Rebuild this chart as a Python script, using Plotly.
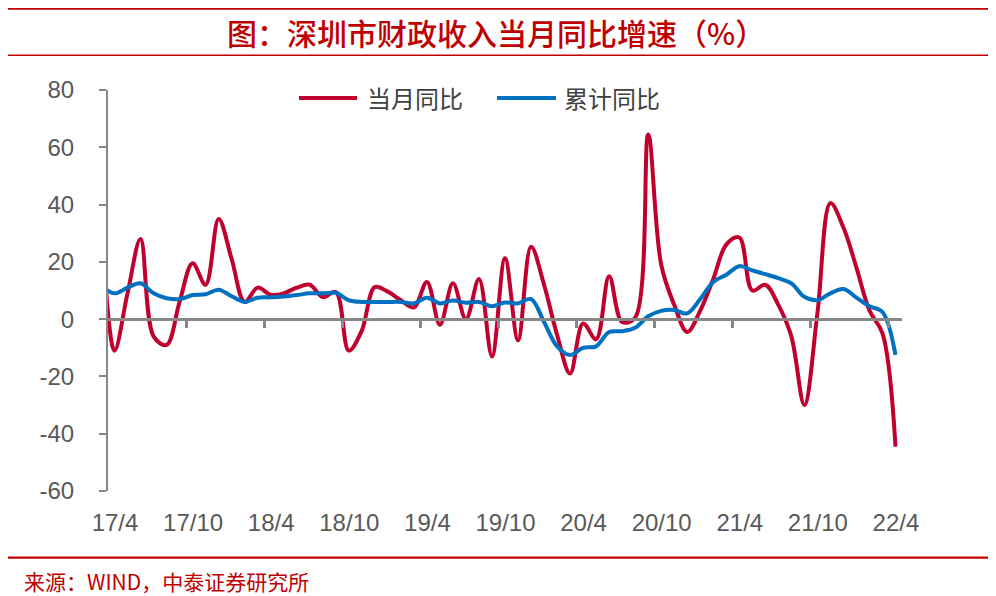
import plotly.graph_objects as go

# ---------------- data ----------------
# month index: -1 = 2017/3 (clipped at the left edge), 0 = 2017/4 ... 60 = 2022/4
months = list(range(-1, 61))

monthly_yoy = [35, -11, 9, 28, -6, -9, 6, 19.5, 12, 35, 21, 6, 11, 8.5, 9, 11, 12, 7.7, 9.5,
               -11, -4, 11.2, 9.6, 6.6, 4.1, 13, -2, 12.5, 0, 14, -13, 21.3, -7.4, 25.3, 12,
               -5.5, -19, -1.5, -7, 15, -1, 0.5, 64.5, 19, 5, -4.5, 3, 14, 26, 28.5, 10, 12,
               5, -6, -30, 2, 40.5, 32, 18, 3, -5, -44.5]

cumulative_yoy = [11.5, 9, 11, 12.5, 9, 7.3, 7, 8.4, 8.7, 10.3, 8, 6, 7.5, 7.6, 7.9, 8.4, 9,
                  9, 9.2, 6.6, 6, 6, 6, 6, 5.5, 7.5, 5.5, 6.5, 5.7, 6, 4.5, 5.8, 5.5, 7, -1,
                  -9.5, -12.5, -10, -9.5, -4.5, -4.2, -3, 1, 2.9, 3.2, 2, 7, 13, 15.5, 18.5,
                  17, 15.7, 14.3, 12.5, 7.8, 6.6, 9, 10.5, 7.5, 4.5, 2.5, -12.5]

tick_months = [0, 6, 12, 18, 24, 30, 36, 42, 48, 54, 60]
tick_labels = ["17/4", "17/10", "18/4", "18/10", "19/4", "19/10",
               "20/4", "20/10", "21/4", "21/10", "22/4"]
y_ticks = [-60, -40, -20, 0, 20, 40, 60, 80]
y_tick_labels = ["-60", "-40", "-20", "0", "20", "40", "60", "80"]

series_names = ["当月同比", "累计同比"]
series_colors = ["#C0002F", "#0070C0"]

# ---------------- layout geometry ----------------
# the page body adds an 8px offset, so figure pixels = window pixels - 8
OFF = 8
W, H = 996, 596
PLOT_L, PLOT_R, PLOT_T, PLOT_B = 108, 902, 90, 491   # window pixels
L = PLOT_L - OFF
R = W - (PLOT_R - OFF)
T = PLOT_T - OFF
B = H - (PLOT_B - OFF)
PW, PH = W - L - R, H - T - B

def px_x(px):
    return (px - OFF - L) / PW

def px_y(py):
    return (H - B - (py - OFF)) / PH

RED = "#C00000"
GRAY = "#878787"
TXT = "#595959"

fig = go.Figure()

fig.add_trace(go.Scatter(x=months, y=monthly_yoy, mode="lines", name=series_names[0],
                         line=dict(color=series_colors[0], width=4, shape="spline", smoothing=1),
                         showlegend=False))
fig.add_trace(go.Scatter(x=months, y=cumulative_yoy, mode="lines", name=series_names[1],
                         line=dict(color=series_colors[1], width=4, shape="spline", smoothing=1),
                         showlegend=False))
# helper trace so the zero-crossing axis is drawn
fig.add_trace(go.Scatter(x=[None], y=[None], xaxis="x2", showlegend=False, hoverinfo="skip"))

xrange = [-0.5, 60.5]

fig.update_layout(
    width=W, height=H,
    margin=dict(l=L, r=R, t=T, b=B, pad=0),
    paper_bgcolor="white", plot_bgcolor="white",
    font=dict(family="Liberation Sans, Arial, sans-serif", color=TXT),
    xaxis=dict(
        range=xrange, showgrid=False, zeroline=False, showline=False,
        tickmode="array", tickvals=[m - 0.5 for m in tick_months], ticktext=tick_labels,
        ticks="", ticklabelshift=7, ticklabelstandoff=15,
        tickfont=dict(family="Liberation Sans, Arial, sans-serif", size=24, color=TXT),
        fixedrange=True,
    ),
    xaxis2=dict(
        range=xrange, overlaying="x", anchor="free", position=60 / 140,
        showgrid=False, zeroline=False, showline=True, linecolor=GRAY, linewidth=2.5,
        tickmode="array", tickvals=[m - 0.5 for m in tick_months[1:]],
        ticks="outside", ticklen=7, tickwidth=3, tickcolor=GRAY,
        showticklabels=False,
    ),
    yaxis=dict(
        range=[-60, 80], showgrid=False, zeroline=False,
        showline=True, linecolor=GRAY, linewidth=2,
        tickmode="array", tickvals=y_ticks, ticktext=y_tick_labels,
        ticks="outside", ticklen=7, tickwidth=2, tickcolor=GRAY,
        ticklabelstandoff=20,
        tickfont=dict(family="Liberation Sans, Arial, sans-serif", size=24, color=TXT),
        fixedrange=True,
    ),
)

shapes = []
# decorative rules
shapes.append(dict(type="line", xref="paper", yref="paper",
                   x0=px_x(4), x1=px_x(990), y0=px_y(7.3), y1=px_y(7.3),
                   line=dict(color=RED, width=5)))
shapes.append(dict(type="line", xref="paper", yref="paper",
                   x0=px_x(4), x1=px_x(990), y0=px_y(55.2), y1=px_y(55.2),
                   line=dict(color=RED, width=1.5)))
shapes.append(dict(type="line", xref="paper", yref="paper",
                   x0=px_x(4), x1=px_x(990), y0=px_y(557.7), y1=px_y(557.7),
                   line=dict(color=RED, width=2.2)))

annotations = []
# title
annotations.append(dict(text="图：深圳市财政收入当月同比增速（%）", xref="paper", yref="paper",
                        x=px_x(496), y=px_y(32), xanchor="center", yanchor="middle",
                        showarrow=False,
                        font=dict(family="Noto Sans CJK SC", size=30, color=RED, weight=500)))
# legend samples
legend_items = [(299, 357, 365), (497, 556, 562)]
for (lx0, lx1, tx), name, col in zip(legend_items, series_names, series_colors):
    shapes.append(dict(type="line", xref="paper", yref="paper",
                       x0=px_x(lx0), x1=px_x(lx1), y0=px_y(98), y1=px_y(98),
                       line=dict(color=col, width=4)))
    annotations.append(dict(text=name, xref="paper", yref="paper",
                            x=px_x(tx), y=px_y(98), xanchor="left", yanchor="middle",
                            showarrow=False,
                            font=dict(family="Noto Sans CJK SC", size=24, color="#404040")))

annotations.append(dict(text="来源：WIND，中泰证券研究所", xref="paper", yref="paper",
                        x=px_x(22), y=px_y(581), xanchor="left", yanchor="middle",
                        showarrow=False,
                        font=dict(family="Noto Sans CJK SC", size=21, color=RED)))

fig.update_layout(shapes=shapes, annotations=annotations)

fig.write_html("out.html")
